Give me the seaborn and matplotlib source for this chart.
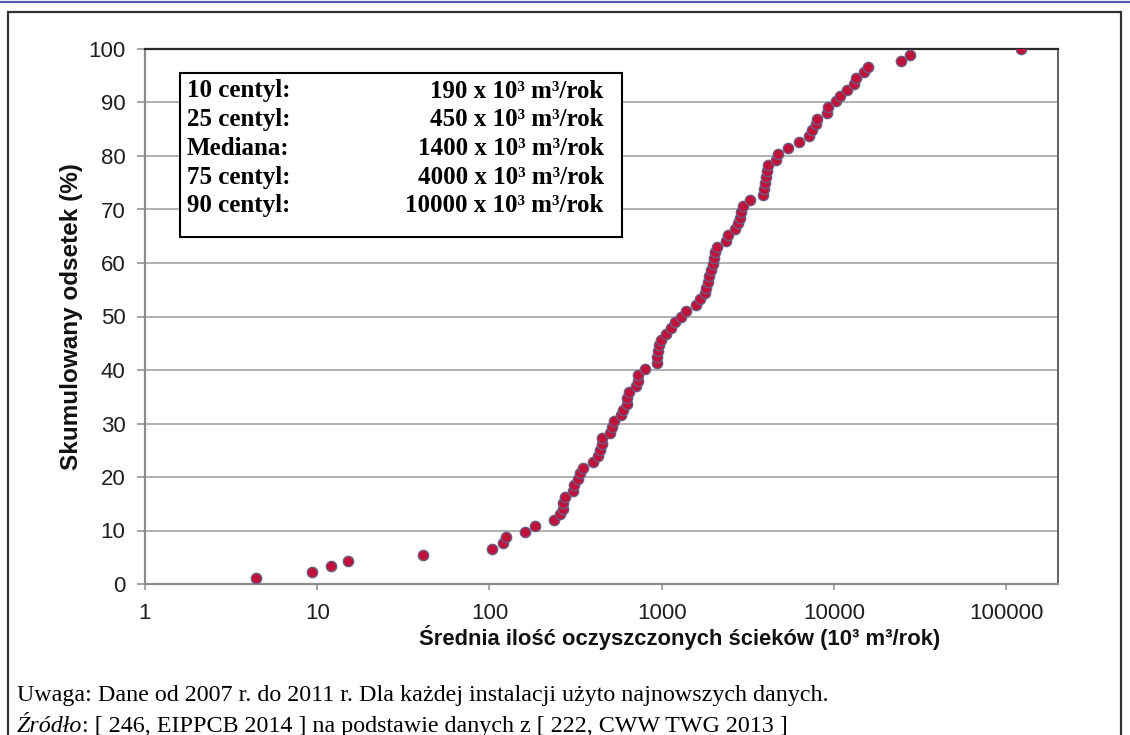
import numpy as np
import pandas as pd
import seaborn as sns
import matplotlib.pyplot as plt
from matplotlib.patches import Rectangle
from matplotlib.lines import Line2D
from matplotlib.ticker import NullLocator

# ---------------- data ----------------
flow_values = [4.39, 9.28, 11.96, 15.0, 40.9, 103.7, 120, 125, 160, 183,
               236, 256, 266, 268, 274, 306, 310, 327, 335, 350,
               397, 427, 437, 449, 452, 500, 518, 527, 577, 597,
               625, 633, 644, 707, 724, 727, 805, 933, 940, 953,
               962, 988, 1056, 1129, 1202, 1303, 1393, 1592, 1680, 1796,
               1820, 1845, 1877, 1928, 1993, 2007, 2053, 2097, 2355, 2429,
               2657, 2776, 2840, 2905, 2968, 3246, 3877, 3913, 3966, 4019,
               4089, 4144, 4594, 4719, 5415, 6272, 7170, 7432, 7843, 7980,
               9120, 9243, 10340, 10806, 11979, 13084, 13510, 14950, 15711, 24420,
               27540, 121400]
cum_percent = [1.1, 2.2, 3.3, 4.3, 5.4, 6.5, 7.6, 8.7, 9.8, 10.9,
               12.0, 13.0, 14.1, 15.2, 16.3, 17.4, 18.5, 19.6, 20.7, 21.7,
               22.8, 23.9, 25.0, 26.1, 27.2, 28.3, 29.3, 30.4, 31.5, 32.6,
               33.7, 34.8, 35.9, 37.0, 38.0, 39.1, 40.2, 41.3, 42.4, 43.5,
               44.6, 45.7, 46.7, 47.8, 48.9, 50.0, 51.1, 52.2, 53.3, 54.3,
               55.4, 56.5, 57.6, 58.7, 59.8, 60.9, 62.0, 63.0, 64.1, 65.2,
               66.3, 67.4, 68.5, 69.6, 70.7, 71.7, 72.8, 73.9, 75.0, 76.1,
               77.2, 78.3, 79.3, 80.4, 81.5, 82.6, 83.7, 84.8, 85.9, 87.0,
               88.0, 89.1, 90.2, 91.3, 92.4, 93.5, 94.6, 95.7, 96.7, 97.8,
               98.9, 100.0]

x_ticks = [1, 10, 100, 1000, 10000, 100000]
x_tick_labels = ["1", "10", "100", "1000", "10000", "100000"]
y_ticks = [0, 10, 20, 30, 40, 50, 60, 70, 80, 90, 100]

stat_names = ["10 centyl:", "25 centyl:", "Mediana:", "75 centyl:", "90 centyl:"]
stat_values = ["190", "450", "1400", "4000", "10000"]

x_label = "Średnia ilość oczyszczonych ścieków (10³ m³/rok)"
y_label = "Skumulowany odsetek (%)"
note_line = "Uwaga: Dane od 2007 r. do 2011 r. Dla każdej instalacji użyto najnowszych danych."
source_italic = "Źródło"
source_rest = ": [ 246, EIPPCB 2014 ] na podstawie danych z [ 222, CWW TWG 2013 ]"

df = pd.DataFrame({"flow": flow_values, "pct": cum_percent})

# ---------------- figure ----------------
sns.set_theme(style="white")
plt.rcParams['font.family'] = ['Liberation Sans', 'DejaVu Sans']

W, H = 1130, 735
fig = plt.figure(figsize=(W / 100, H / 100), dpi=100)
fig.patch.set_facecolor('white')


def px(x, y):
    return x / W, 1 - y / H


ax_l, ax_r, ax_t, ax_b = 145, 1058, 49, 584
ax = fig.add_axes([ax_l / W, 1 - ax_b / H, (ax_r - ax_l) / W, (ax_b - ax_t) / H])

sns.scatterplot(data=df, x="flow", y="pct", ax=ax, s=55, color="#c0123a",
                edgecolor="#6e5c80", linewidth=1.0, zorder=5, legend=False)

ax.set_xscale('log')
ax.set_xlim(1, 2e5)
ax.set_ylim(0, 100)
ax.set_xticks(x_ticks)
ax.set_xticklabels(x_tick_labels)
ax.xaxis.set_minor_locator(NullLocator())
ax.set_yticks(y_ticks)
ax.set_yticklabels([str(v) for v in y_ticks])

ax.grid(axis='y', color='#a3a3a3', linewidth=1.2)
ax.grid(axis='x', visible=False)
ax.set_axisbelow(True)

for side in ['left', 'bottom']:
    ax.spines[side].set_color('#8c8c8c')
    ax.spines[side].set_linewidth(1.6)
ax.spines['top'].set_color('#2a2a2a')
ax.spines['top'].set_linewidth(1.6)
ax.spines['right'].set_color('#555555')
ax.spines['right'].set_linewidth(1.3)

ax.tick_params(axis='y', left=True, length=5.5, width=1.1, color='#8c8c8c',
               labelsize=16, labelcolor='#1e1e1e', pad=8.5, direction='out')
ax.tick_params(axis='x', bottom=True, length=4.5, width=1.1, color='#8c8c8c',
               labelsize=16, labelcolor='#1e1e1e', pad=9, direction='out')

ax.set_xlabel(x_label, fontsize=15.8, fontweight='bold', color='#111111', va='center')
ax.xaxis.set_label_coords((680 - ax_l) / (ax_r - ax_l), (ax_b - 637) / (ax_b - ax_t))
ax.set_ylabel(y_label, fontsize=17.5, fontweight='bold', color='#111111', va='center')
ax.yaxis.set_label_coords((72 - ax_l) / (ax_r - ax_l), 0.5)

# ---------------- statistics box ----------------
bx0, bx1, by0, by1 = 180, 621.5, 72.5, 237
ax.add_patch(Rectangle(((bx0 - ax_l) / (ax_r - ax_l), (ax_b - by1) / (ax_b - ax_t)),
                       (bx1 - bx0) / (ax_r - ax_l), (by1 - by0) / (ax_b - ax_t),
                       transform=ax.transAxes, facecolor='white', edgecolor='black',
                       linewidth=1.5, zorder=3))
serif_bold = dict(family=['Liberation Serif', 'DejaVu Serif'], fontweight='bold',
                  fontsize=18, color='black', va='baseline')
for i, (name, val) in enumerate(zip(stat_names, stat_values)):
    yb = 97.5 + i * 28.7
    fig.text(*px(187, yb), name, ha='left', **serif_bold)
    fig.text(*px(603.5, yb), f"{val} x 10³ m³/rok", ha='right', **serif_bold)

# ---------------- notes ----------------
serif = dict(family=['Liberation Serif', 'DejaVu Serif'], fontsize=17.3, color='black',
             va='baseline')
fig.text(*px(17, 701), note_line, ha='left', **serif)
t_it = fig.text(*px(17, 732), source_italic, ha='left', style='italic', **serif)
fig.canvas.draw()
bb = t_it.get_window_extent()
fig.text(bb.x1 / W, 1 - 732 / H, source_rest, ha='left', **serif)

# ---------------- outer frame and top rule ----------------
fig.add_artist(Line2D([0, 1], [1 - 2 / H, 1 - 2 / H], transform=fig.transFigure,
                      color='#5a5ab8', linewidth=1.6))
fig.add_artist(Rectangle(px(8, 760), (1121 - 8) / W, (760 - 12) / H,
                         transform=fig.transFigure, facecolor='none',
                         edgecolor='#333333', linewidth=1.6, zorder=-1))

fig.savefig("out.png", dpi=100, facecolor='white')
